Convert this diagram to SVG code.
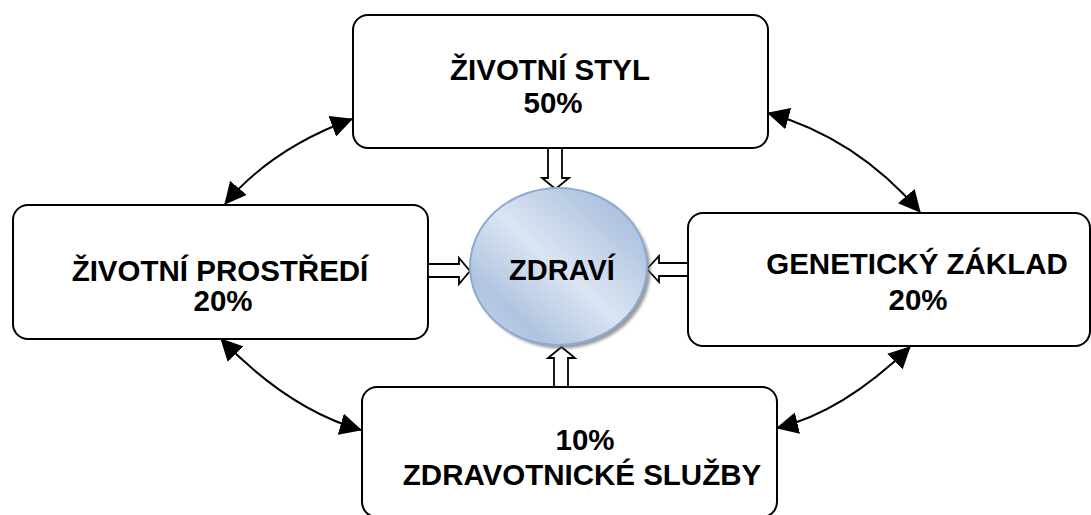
<svg xmlns="http://www.w3.org/2000/svg" width="1091" height="515" viewBox="0 0 1091 515">
  <style>
    .box { fill: #ffffff; stroke: #000000; stroke-width: 2; }
    .lbl { font-family: "Liberation Sans", Arial, sans-serif; font-weight: bold; font-size: 29.5px; fill: #000000; text-anchor: middle; }
    .curve { fill: none; stroke: #000000; stroke-width: 2; marker-start: url(#tri); marker-end: url(#tri); }
    .block { fill: #ffffff; stroke: #000000; stroke-width: 1.8; stroke-linejoin: miter; }
  </style>
  <defs>
    <marker id="tri" viewBox="0 0 22 22" refX="21" refY="11" markerWidth="22" markerHeight="22" markerUnits="userSpaceOnUse" orient="auto-start-reverse">
      <path d="M0,0 L22,11 L0,22 Z" fill="#000000"/>
    </marker>
    <linearGradient id="ballFill" x1="1" y1="0" x2="0" y2="1">
      <stop offset="0" stop-color="#9db6d9"/>
      <stop offset="0.25" stop-color="#b9cbe4"/>
      <stop offset="0.5" stop-color="#dbe5f2"/>
      <stop offset="0.78" stop-color="#b0c4e0"/>
      <stop offset="1" stop-color="#c9d7eb"/>
    </linearGradient>
    <filter id="blur" x="-10%" y="-10%" width="120%" height="120%">
      <feGaussianBlur stdDeviation="1.5"/>
    </filter>
  </defs>

  <g id="connectors">
    <path class="curve" d="M225,204 Q271.5,148.5 352,119"/>
    <path class="curve" d="M768,113 Q856,137.5 920,212"/>
    <path class="curve" d="M221,339 Q289,409.5 361,430"/>
    <path class="curve" d="M910,347 Q842.5,412.5 777,428"/>
  </g>

  <g id="node-zivotni-styl">
    <rect class="box" x="353" y="15" width="415" height="133" rx="15" ry="15"/>
    <text class="lbl" x="550" y="80">ŽIVOTNÍ STYL</text>
    <text class="lbl" x="553" y="113">50%</text>
  </g>

  <g id="node-zivotni-prostredi">
    <rect class="box" x="13" y="205" width="415" height="134" rx="15" ry="15"/>
    <text class="lbl" x="220" y="281">ŽIVOTNÍ PROSTŘEDÍ</text>
    <text class="lbl" x="223" y="311">20%</text>
  </g>

  <g id="node-geneticky-zaklad">
    <rect class="box" x="688" y="213" width="402" height="133" rx="15" ry="15"/>
    <text class="lbl" x="917" y="274">GENETICKÝ ZÁKLAD</text>
    <text class="lbl" x="918" y="310">20%</text>
  </g>

  <g id="node-zdravotnicke-sluzby">
    <rect class="box" x="362" y="387" width="415" height="130" rx="15" ry="15"/>
    <text class="lbl" x="585" y="450">10%</text>
    <text class="lbl" x="582" y="485">ZDRAVOTNICKÉ SLUŽBY</text>
  </g>

  <g id="block-arrows">
    <path class="block" d="M548,148 L562,148 L562,178 L569,178 L555.5,189 L542,178 L548,178 Z"/>
    <path class="block" d="M428,264 L459,264 L459,258 L470,271 L459,284 L459,277 L428,277 Z"/>
    <path class="block" d="M688,263 L659,263 L659,256 L647,269 L659,282 L659,276 L688,276 Z"/>
    <path class="block" d="M554,387 L554,358 L548,358 L561.5,347 L575,358 L568,358 L568,387 Z"/>
  </g>

  <g id="node-zdravi">
    <ellipse cx="562" cy="270" rx="88.5" ry="78.5" fill="#6f6f6f" opacity="0.7" filter="url(#blur)"/>
    <ellipse cx="558.5" cy="266.5" rx="88.5" ry="78.5" fill="url(#ballFill)" stroke="#8eaad3" stroke-width="2"/>
    <text class="lbl" x="562" y="280" style="font-size:29px">ZDRAVÍ</text>
  </g>
</svg>
